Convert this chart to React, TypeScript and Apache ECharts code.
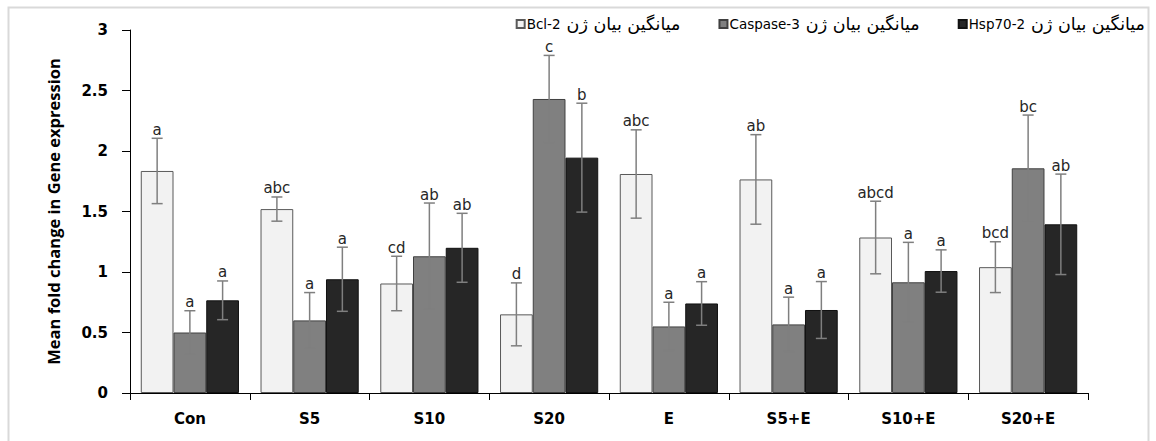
import React, { useEffect, useRef } from "react";
import * as echarts from "echarts";

const categories = ["Con", "S5", "S10", "S20", "E", "S5+E", "S10+E", "S20+E"];
const geneNames = ["Bcl-2", "Caspase-3", "Hsp70-2"];
const persianLabel = "میانگین بیان ژن";
const seriesNames = geneNames.map((g) => g + " " + persianLabel);
const bcl2 = [1.835, 1.52, 0.905, 0.65, 1.81, 1.765, 1.285, 1.04];
const bcl2Err = [0.27, 0.1, 0.225, 0.26, 0.365, 0.37, 0.3, 0.21];
const bcl2Letters = ["a", "abc", "cd", "d", "abc", "ab", "abcd", "bcd"];
const casp3 = [0.5, 0.6, 1.13, 2.43, 0.55, 0.567, 0.915, 1.857];
const casp3Err = [0.18, 0.23, 0.44, 0.36, 0.2, 0.225, 0.33, 0.44];
const casp3Letters = ["a", "a", "ab", "c", "a", "a", "a", "bc"];
const hsp70 = [0.766, 0.94, 1.2, 1.945, 0.74, 0.686, 1.008, 1.394];
const hsp70Err = [0.16, 0.265, 0.285, 0.45, 0.18, 0.235, 0.175, 0.415];
const hsp70Letters = ["a", "a", "ab", "b", "a", "a", "a", "ab"];

const fills = ["#f2f2f2", "#808080", "#262626"];
const borders = ["#595959", "#404040", "#111111"];
const CAT_GAP = 0.18;

function errSeries(values: number[], errs: number[], letters: string[], off: number) {
  return {
    type: "custom",
    z: 5,
    silent: true,
    data: values.map((v, i) => [i, v, errs[i]]),
    encode: { x: 0, y: 1 },
    renderItem: (params: any, api: any) => {
      const i = api.value(0);
      const v = api.value(1);
      const e = api.value(2);
      const bandW = api.size([1, 0])[0];
      const barW = (bandW * (1 - CAT_GAP)) / 3;
      const c = api.coord([i, v]);
      const x = c[0] + off * barW;
      const top = api.coord([i, v + e])[1];
      const bot = api.coord([i, v - e])[1];
      const st = { stroke: "#7f7f7f", lineWidth: 1.5 };
      return {
        type: "group",
        children: [
          { type: "line", shape: { x1: x, y1: top, x2: x, y2: bot }, style: st },
          { type: "line", shape: { x1: x - 5.5, y1: top, x2: x + 5.5, y2: top }, style: st },
          { type: "line", shape: { x1: x - 5.5, y1: bot, x2: x + 5.5, y2: bot }, style: st },
          {
            type: "text",
            style: {
              text: letters[i],
              x: x,
              y: top - 1,
              textAlign: "center",
              textVerticalAlign: "bottom",
              fill: "#262626",
              font: "15px 'DejaVu Sans'",
            },
          },
        ],
      };
    },
  };
}

export default function App() {
  const ref = useRef<HTMLDivElement>(null);
  useEffect(() => {
    const chart = echarts.init(ref.current!, null, { renderer: "svg" });
    const vals = [bcl2, casp3, hsp70];
    const bars = vals.map((d, k) => ({
      name: seriesNames[k],
      type: "bar",
      data: d,
      barGap: "0%",
      barCategoryGap: CAT_GAP * 100 + "%",
      itemStyle: { color: fills[k], borderColor: borders[k], borderWidth: 1 },
    }));
    chart.setOption({
      animation: false,
      backgroundColor: "#ffffff",
      textStyle: { fontFamily: "DejaVu Sans" },
      graphic: [
        {
          type: "rect",
          shape: { x: 8.5, y: 7.5, width: 1140, height: 440 },
          style: { fill: "none", stroke: "#d9d9d9", lineWidth: 2 },
          silent: true,
        },
      ],
      legend: {
        data: seriesNames,
        right: 6,
        top: 10,
        icon: "rect",
        itemWidth: 8,
        itemHeight: 8,
        itemGap: 38,
        formatter: (name: string) => {
          const g = geneNames.find((n) => name.indexOf(n) === 0) || "";
          return "{a|" + g + "}{b|" + persianLabel + "}";
        },
        textStyle: {
          color: "#000",
          fontSize: 13.5,
          padding: [0, 0, 0, -3],
          rich: {
            a: { fontSize: 13.5, fontFamily: "DejaVu Sans", color: "#000", padding: [0, 6, 0, 0] },
            b: { fontSize: 17.5, fontFamily: "DejaVu Sans", color: "#000" },
          },
        },
      },
      grid: { left: 130, right: 68, top: 30, bottom: 48 },
      xAxis: {
        type: "category",
        data: categories,
        axisLine: { lineStyle: { color: "#000", width: 1 } },
        axisTick: { show: true, length: 7, lineStyle: { color: "#000" } },
        axisLabel: { fontSize: 15, fontWeight: "bold", color: "#000", margin: 18 },
      },
      yAxis: {
        type: "value",
        min: 0,
        max: 3,
        interval: 0.5,
        name: "Mean fold change in Gene expression",
        nameLocation: "middle",
        nameRotate: 90,
        nameGap: 68,
        nameTextStyle: { fontSize: 16.5, fontWeight: "bold", color: "#000", fontFamily: "Open Sans" },
        splitLine: { show: false },
        axisLine: { show: true, lineStyle: { color: "#000", width: 1 } },
        axisTick: { show: true, length: 8, lineStyle: { color: "#000" } },
        axisLabel: { fontSize: 15, fontWeight: "bold", color: "#000", margin: 22 },
      },
      series: [
        ...bars,
        errSeries(bcl2, bcl2Err, bcl2Letters, -1),
        errSeries(casp3, casp3Err, casp3Letters, 0),
        errSeries(hsp70, hsp70Err, hsp70Letters, 1),
      ],
    });
    return () => chart.dispose();
  }, []);
  return (
    <div
      ref={ref}
      style={{ position: "absolute", left: 0, top: 0, width: 1156, height: 441 }}
    />
  );
}
